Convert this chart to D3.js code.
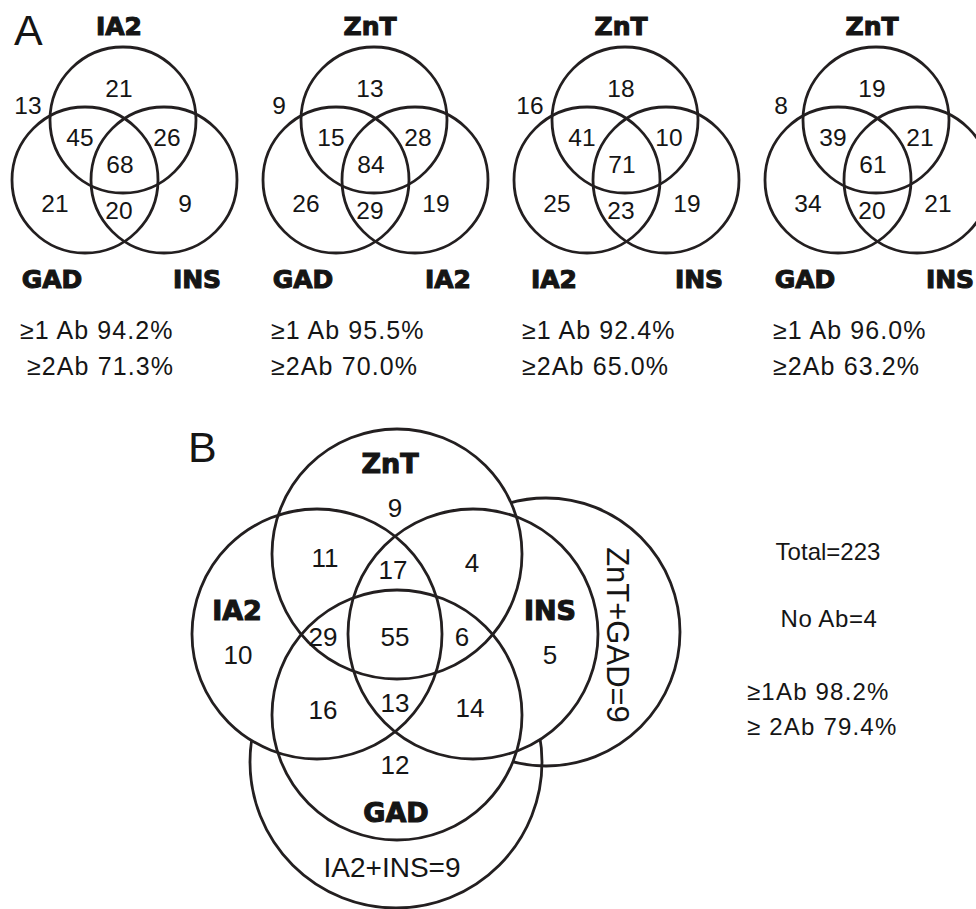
<!DOCTYPE html>
<html>
<head>
<meta charset="utf-8">
<script src="https://cdn.jsdelivr.net/npm/d3@7"></script>
<style>
  body { margin: 0; background: #fff; }
  svg text { font-family: "Liberation Sans", Arial, sans-serif; fill: #151515; }
  svg text.set { font-family: "DejaVu Sans", sans-serif; font-weight: bold; stroke: #151515; stroke-width: 1.1px; }
</style>
</head>
<body>
<svg id="chart" width="976" height="909"></svg>
<script>
// ---- data: panel A (four 3-way Venns) ----
// set names: [top, bottom-left, bottom-right]
const vennSets = [
  ["IA2", "GAD", "INS"],
  ["ZnT", "GAD", "IA2"],
  ["ZnT", "IA2", "INS"],
  ["ZnT", "GAD", "INS"]
];
// region counts: none, top only, top+left, top+right, all three, left only, left+right, right only
const vennCounts = [
  [13, 21, 45, 26, 68, 21, 20, 9],
  [9, 13, 15, 28, 84, 26, 29, 19],
  [16, 18, 41, 10, 71, 25, 23, 19],
  [8, 19, 39, 21, 61, 34, 20, 21]
];
const atLeast1 = [94.2, 95.5, 92.4, 96.0];
const atLeast2 = [71.3, 70.0, 65.0, 63.2];

// ---- data: panel B (4-way Venn) ----
const fourSets = ["ZnT", "IA2", "INS", "GAD"];
const fourRegions = ["ZnT", "ZnT+IA2", "ZnT+IA2+INS", "ZnT+INS", "IA2", "ZnT+IA2+GAD", "ALL",
                     "ZnT+INS+GAD", "INS", "IA2+GAD", "IA2+INS+GAD", "INS+GAD", "GAD"];
const fourCounts = [9, 11, 17, 4, 10, 29, 55, 6, 5, 16, 13, 14, 12];
const extraSets = ["ZnT+GAD", "IA2+INS"];
const extraCounts = [9, 9];
const totalN = 223;
const noAb = 4;
const bAtLeast1 = 98.2;
const bAtLeast2 = 79.4;

const svg = d3.select("#chart");
const pct = d3.format(".1f");
const ink = "#231f20";

// panel letters
svg.append("text").attr("x", 14).attr("y", 45).attr("font-size", 43).text("A");
svg.append("text").attr("x", 188).attr("y", 462).attr("font-size", 43).text("B");

// ---------- Panel A ----------
// local layout of one small venn (x local, y page)
const circA = [[123, 120], [85, 180], [164, 180]];
const rA = 73;
const regionPosA = [[28, 105], [119, 88], [80, 137], [167, 137], [120, 164], [55, 203], [119, 210], [185, 203]];
const setPosA = [[119, 35], [52, 288], [197, 288]];

const xPanel = d3.scaleBand().domain(d3.range(vennCounts.length)).range([0, 1004]);

vennCounts.forEach((counts, i) => {
  const x = d3.scaleLinear().domain([0, 250]).range([xPanel(i), xPanel(i) + 250]);
  const g = svg.append("g");

  g.selectAll("circle").data(circA).join("circle")
    .attr("cx", d => x(d[0])).attr("cy", d => d[1]).attr("r", rA)
    .attr("fill", "none").attr("stroke", ink).attr("stroke-width", 2.8);

  g.selectAll("text.num").data(counts).join("text")
    .attr("class", "num")
    .attr("x", (d, j) => x(regionPosA[j][0]))
    .attr("y", (d, j) => regionPosA[j][1])
    .attr("dy", "0.36em")
    .attr("text-anchor", "middle")
    .attr("font-size", 24.5)
    .text(d => d);

  g.selectAll("text.set").data(vennSets[i]).join("text")
    .attr("class", "set")
    .attr("x", (d, j) => x(setPosA[j][0]))
    .attr("y", (d, j) => setPosA[j][1])
    .attr("text-anchor", "middle")
    .attr("font-size", 25)
    .text(d => d);

  g.append("text").attr("x", x(20)).attr("y", 339)
    .attr("font-size", 25).attr("letter-spacing", 1.1)
    .text("\u22651 Ab " + pct(atLeast1[i]) + "%");
  g.append("text").attr("x", x(i === 0 ? 27 : 20)).attr("y", 375)
    .attr("font-size", 25).attr("letter-spacing", 1.1)
    .text("\u22652Ab " + pct(atLeast2[i]) + "%");
});

// ---------- Panel B ----------
const circB = [[397, 554], [317, 634], [473, 634], [397, 715]];   // ZnT, IA2, INS, GAD
const rB = 125;
const extraCirc = [[546, 632, 134], [396, 762, 146]];            // ZnT+GAD (right), IA2+INS (bottom)
const regionPosB = [[395, 508], [325, 558], [393, 570], [472, 563], [238, 655], [323, 637], [395, 637],
                    [462, 637], [550, 655], [323, 710], [395, 703], [470, 708], [395, 765]];
const setPosB = [[390, 473], [237, 620], [550, 620], [396, 822]];

// mask: extra circles only show outside the four main circles
const mask = svg.append("defs").append("mask").attr("id", "outside")
  .attr("maskUnits", "userSpaceOnUse").attr("x", 0).attr("y", 0).attr("width", 976).attr("height", 909);
mask.append("rect").attr("width", 976).attr("height", 909).attr("fill", "#fff");
mask.selectAll("circle").data(circB).join("circle")
  .attr("cx", d => d[0]).attr("cy", d => d[1]).attr("r", rB).attr("fill", "#000");

const gb = svg.append("g");
gb.append("g").attr("mask", "url(#outside)")
  .selectAll("circle").data(extraCirc).join("circle")
  .attr("cx", d => d[0]).attr("cy", d => d[1]).attr("r", d => d[2])
  .attr("fill", "none").attr("stroke", ink).attr("stroke-width", 2.8);

gb.append("g").selectAll("circle").data(circB).join("circle")
  .attr("cx", d => d[0]).attr("cy", d => d[1]).attr("r", rB)
  .attr("fill", "none").attr("stroke", ink).attr("stroke-width", 2.8);

gb.selectAll("text.num").data(fourCounts).join("text")
  .attr("class", "num")
  .attr("x", (d, j) => regionPosB[j][0])
  .attr("y", (d, j) => regionPosB[j][1])
  .attr("dy", "0.36em")
  .attr("text-anchor", "middle")
  .attr("font-size", 26)
  .text(d => d);

gb.selectAll("text.set").data(fourSets).join("text")
  .attr("class", "set")
  .attr("x", (d, j) => setPosB[j][0])
  .attr("y", (d, j) => setPosB[j][1])
  .attr("text-anchor", "middle")
  .attr("font-size", 27)
  .text(d => d);

// extra combos
gb.append("text")
  .attr("transform", "translate(607,635) rotate(90)")
  .attr("text-anchor", "middle")
  .attr("font-size", 31)
  .text(extraSets[0] + "=" + extraCounts[0]);
gb.append("text")
  .attr("x", 392).attr("y", 877)
  .attr("text-anchor", "middle")
  .attr("font-size", 28)
  .text(extraSets[1] + "=" + extraCounts[1]);

// summary
const summary = [
  { t: "Total=" + totalN, x: 828, y: 560, a: "middle", ls: 0 },
  { t: "No Ab=" + noAb, x: 829, y: 627, a: "middle", ls: 0.6 },
  { t: "\u22651Ab " + pct(bAtLeast1) + "%", x: 747, y: 700, a: "start", ls: 1.2 },
  { t: "\u2265 2Ab " + pct(bAtLeast2) + "%", x: 747, y: 735, a: "start", ls: 1.2 }
];
svg.append("g").selectAll("text").data(summary).join("text")
  .attr("x", d => d.x).attr("y", d => d.y)
  .attr("text-anchor", d => d.a)
  .attr("letter-spacing", d => d.ls)
  .attr("font-size", 24)
  .text(d => d.t);
</script>
</body>
</html>
